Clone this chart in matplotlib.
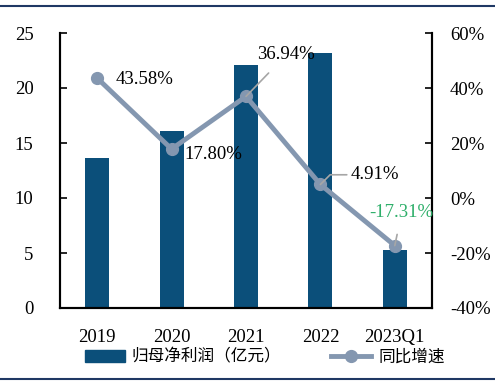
import matplotlib.pyplot as plt
from matplotlib.lines import Line2D

years = ['2019', '2020', '2021', '2022', '2023Q1']
profit = [13.6, 16.1, 22.1, 23.2, 5.3]
growth = [43.58, 17.80, 36.94, 4.91, -17.31]
growth_labels = ['43.58%', '17.80%', '36.94%', '4.91%', '-17.31%']

bar_color = '#0B4F7A'
line_color = '#8497B0'
serif = ['Liberation Serif', 'DejaVu Serif']
cjk = ['Noto Sans CJK SC', 'DejaVu Sans']
fs = 13.5

fig = plt.figure(figsize=(4.95, 3.84), dpi=100)
ax = fig.add_axes([60 / 495, 1 - 308 / 384, 372 / 495, 275 / 384])
ax2 = ax.twinx()

x = list(range(len(years)))
ax.bar(x, profit, width=0.32, color=bar_color, zorder=2)
ax.set_xlim(-0.5, 4.5)
ax.set_ylim(0, 25)
ax.set_yticks([0, 5, 10, 15, 20, 25])
ax.set_xticks(x)
ax.set_xticklabels(years, fontfamily=serif, fontsize=fs)
for t in ax.get_yticklabels():
    t.set_fontfamily(serif)
    t.set_fontsize(fs)
ax.tick_params(axis='y', direction='in', length=5, width=1.2, pad=19)
ax.tick_params(axis='x', length=0, pad=15)

ax2.plot(x, growth, color=line_color, lw=3.5, marker='o', ms=8.5, zorder=3)
ax2.set_ylim(-40, 60)
ax2.set_yticks([-40, -20, 0, 20, 40, 60])
ax2.set_yticklabels([f'{v}%' for v in [-40, -20, 0, 20, 40, 60]], fontfamily=serif, fontsize=fs)
ax2.tick_params(axis='y', direction='in', length=5, width=1.2, pad=13)

for a in (ax, ax2):
    a.spines['top'].set_visible(False)
    for s in ('left', 'right', 'bottom'):
        a.spines[s].set_linewidth(1.5)

# labels
ax2.annotate(growth_labels[0], (0, growth[0]), xytext=(13, -1), textcoords='offset points',
             fontfamily=serif, fontsize=fs, va='center')
ax2.annotate(growth_labels[1], (1, growth[1]), xytext=(9, -4), textcoords='offset points',
             fontfamily=serif, fontsize=fs, va='center')
ax2.annotate(growth_labels[2], (2, growth[2]), xytext=(29, 30), textcoords='offset points',
             fontfamily=serif, fontsize=fs, va='center', ha='center',
             arrowprops=dict(arrowstyle='-', color='#A6A6A6', lw=1.2, shrinkA=7, shrinkB=0))
ax2.annotate(growth_labels[3], (3, growth[3]), xytext=(22, 7), textcoords='offset points',
             fontfamily=serif, fontsize=fs, va='center', ha='left',
             arrowprops=dict(arrowstyle='-', color='#A6A6A6', lw=1.2, shrinkA=1, shrinkB=0,
                             connectionstyle='angle,angleA=0,angleB=45,rad=0'))
ax2.annotate(growth_labels[4], (4, growth[4]), xytext=(5, 24), textcoords='offset points',
             fontfamily=serif, fontsize=fs, va='center', ha='center', color='#2EAF6A',
             arrowprops=dict(arrowstyle='-', color='#A6A6A6', lw=1.2, shrinkA=8, shrinkB=0))

handles = [plt.Rectangle((0, 0), 1, 1, color=bar_color),
           Line2D([], [], color=line_color, lw=3.5, marker='o', ms=8.5)]
leg = fig.legend(handles, ['归母净利润（亿元）', '同比增速'], loc='center',
                 bbox_to_anchor=(0.535, 1 - 357 / 384), ncol=2, frameon=False,
                 prop={'family': cjk, 'size': 12}, handlelength=2.4, columnspacing=3.0,
                 handletextpad=0.4)

fig.add_artist(Line2D([0, 1], [1 - 6 / 384] * 2, color='#1F3864', lw=1.5))
fig.add_artist(Line2D([0, 1], [1 - 379 / 384] * 2, color='#1F3864', lw=1.5))

fig.savefig('out.png', dpi=100)
